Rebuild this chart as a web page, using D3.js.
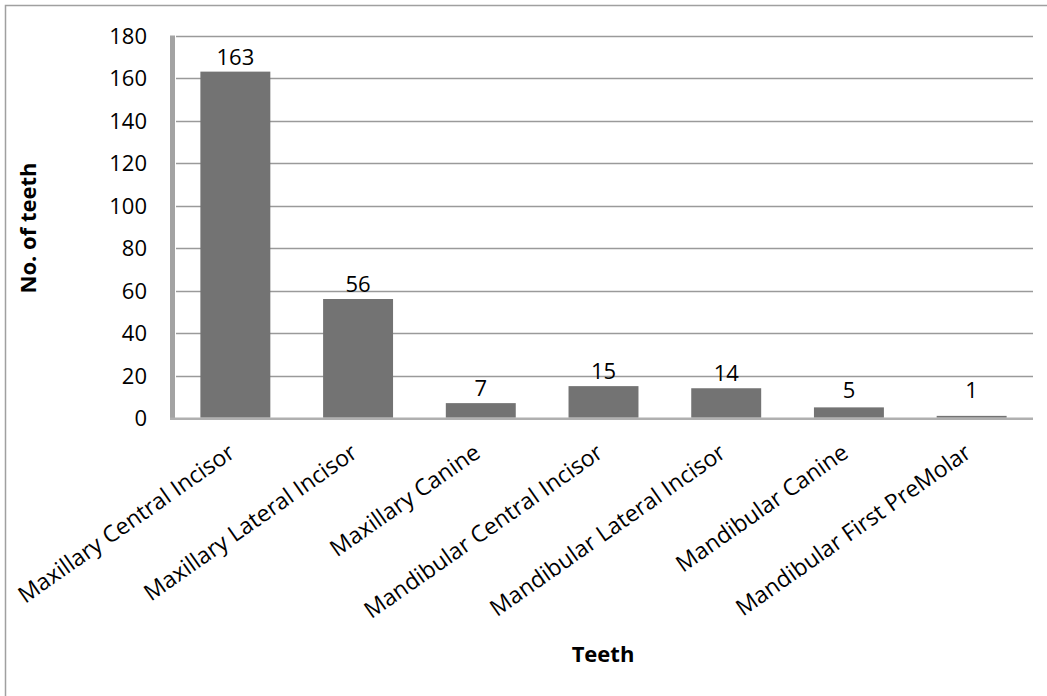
<!DOCTYPE html>
<html>
<head>
<meta charset="utf-8">
<script src="https://cdn.jsdelivr.net/npm/d3@7"></script>
<style>
  html, body { margin: 0; padding: 0; background: #fff; }
  svg { display: block; }
</style>
</head>
<body>
<script>
// Teeth counts per tooth type
const categories = [
  "Maxillary Central Incisor",
  "Maxillary Lateral Incisor",
  "Maxillary Canine",
  "Mandibular Central Incisor",
  "Mandibular Lateral Incisor",
  "Mandibular Canine",
  "Mandibular First PreMolar"
];
const counts = [163, 56, 7, 15, 14, 5, 1];
const yTicks = [0, 20, 40, 60, 80, 100, 120, 140, 160, 180];
const xTitle = "Teeth";
const yTitle = "No. of teeth";

const W = 1047, H = 696;
const plot = { left: 174, right: 1033, top: 35.5, bottom: 418 };
const font = "'Open Sans', sans-serif";

const svg = d3.select("body").append("svg")
  .attr("width", W).attr("height", H);

// chart border
svg.append("path")
  .attr("d", `M5.5,${H} V5.5 H${W}`)
  .attr("fill", "none").attr("stroke", "#a0a0a0").attr("stroke-width", 1.5);

const x = d3.scaleBand().domain(categories)
  .range([plot.left, plot.right]).paddingInner(0.43).paddingOuter(0.215);
const y = d3.scaleLinear().domain([0, 180]).range([plot.bottom, plot.top]);

// horizontal gridlines
svg.append("g").selectAll("line").data(yTicks.filter(d => d > 0)).join("line")
  .attr("x1", plot.left + 2).attr("x2", plot.right)
  .attr("y1", d => Math.round(y(d)) + 0.5).attr("y2", d => Math.round(y(d)) + 0.5)
  .attr("stroke", "#9a9a9a").attr("stroke-width", 1.5);

// side wall and floor
svg.append("rect")
  .attr("x", plot.left - 4).attr("y", plot.top)
  .attr("width", 5).attr("height", plot.bottom - plot.top + 1.5)
  .attr("fill", "#a3a3a3");
svg.append("rect")
  .attr("x", plot.left - 4).attr("y", plot.bottom - 0.5)
  .attr("width", plot.right - plot.left + 4).attr("height", 2.5)
  .attr("fill", "#b0b0b0");

// bars
svg.append("g").selectAll("rect").data(counts).join("rect")
  .attr("x", (d, i) => x(categories[i]))
  .attr("width", x.bandwidth())
  .attr("y", d => y(d))
  .attr("height", d => y(0) - y(d) - 0.5)
  .attr("fill", "#737373");

// value labels
svg.append("g").selectAll("text").data(counts).join("text")
  .attr("x", (d, i) => x(categories[i]) + x.bandwidth() / 2)
  .attr("y", d => Math.min(y(d) - 7, y(0) - 20))
  .attr("text-anchor", "middle")
  .attr("font-family", font).attr("font-size", 22).attr("fill", "#000")
  .text(d => d);

// y tick labels
const yAxis = d3.axisLeft(y).tickValues(yTicks).tickSize(0).tickPadding(0);
const gy = svg.append("g").attr("transform", `translate(147,0)`).call(yAxis);
gy.select(".domain").remove();
gy.selectAll("text")
  .attr("font-family", font).attr("font-size", 22).attr("fill", "#000")
  .attr("dy", "0.36em");

// category labels, rotated
const xAxis = d3.axisBottom(x).tickSize(0).tickPadding(0);
const gx = svg.append("g").call(xAxis);
gx.select(".domain").remove();
gx.selectAll(".tick text")
  .attr("font-family", font).attr("font-size", 23).attr("fill", "#000")
  .attr("text-anchor", "end")
  .attr("y", 0).attr("dy", 0)
  .attr("transform", "translate(1,456) rotate(-35)");

// axis titles
svg.append("text")
  .attr("x", 603).attr("y", 662)
  .attr("text-anchor", "middle")
  .attr("font-family", font).attr("font-weight", "bold").attr("font-size", 22)
  .text(xTitle);
svg.append("text")
  .attr("transform", "translate(36,228) rotate(-90)")
  .attr("text-anchor", "middle")
  .attr("font-family", font).attr("font-weight", "bold").attr("font-size", 22)
  .text(yTitle);
</script>
</body>
</html>
